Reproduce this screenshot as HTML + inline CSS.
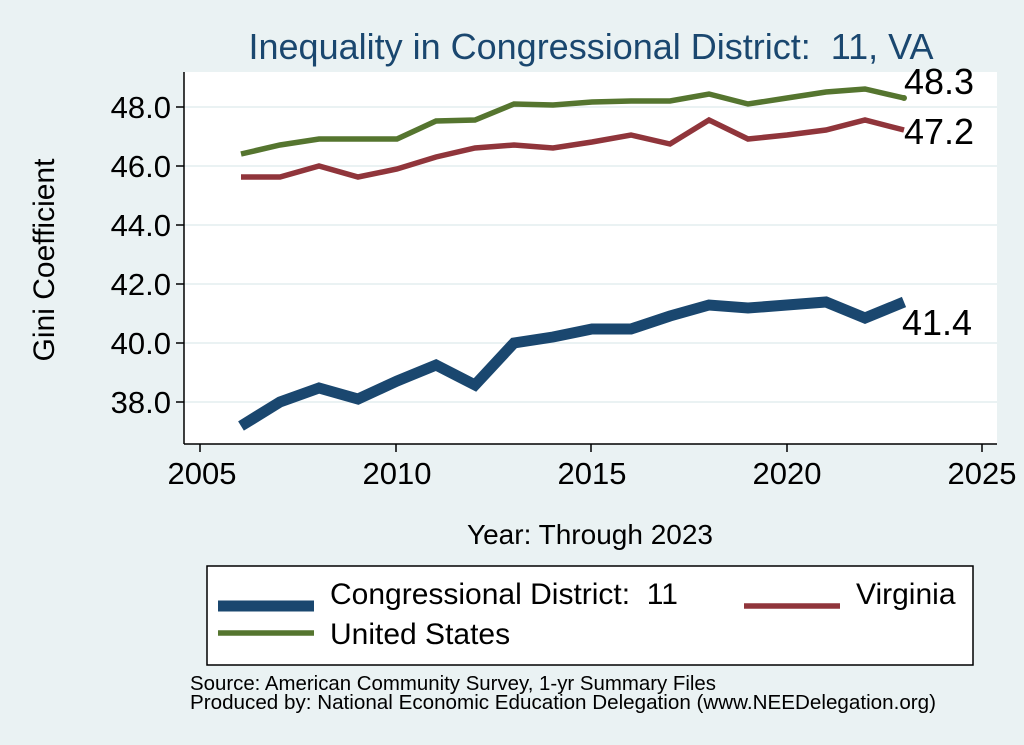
<!DOCTYPE html>
<html><head><meta charset="utf-8"><style>
body{margin:0;background:#eaf2f3}
svg{display:block;font-family:"Liberation Sans",sans-serif}
</style></head><body>
<svg width="1024" height="745" viewBox="0 0 1024 745">
<rect width="1024" height="745" fill="#eaf2f3"/>
<rect x="184" y="72" width="813" height="372" fill="#fff"/>
<g stroke="#eaf2f3" stroke-width="2">
<line x1="184" x2="997" y1="107" y2="107"/><line x1="184" x2="997" y1="166" y2="166"/>
<line x1="184" x2="997" y1="225" y2="225"/><line x1="184" x2="997" y1="284" y2="284"/>
<line x1="184" x2="997" y1="343" y2="343"/><line x1="184" x2="997" y1="402" y2="402"/>
</g>
<g stroke="#000" stroke-width="1.5" fill="none">
<line x1="184" y1="72" x2="184" y2="444"/><line x1="184" y1="444" x2="997" y2="444"/>
<line x1="176" x2="184" y1="107" y2="107"/><line x1="176" x2="184" y1="166" y2="166"/>
<line x1="176" x2="184" y1="225" y2="225"/><line x1="176" x2="184" y1="284" y2="284"/>
<line x1="176" x2="184" y1="343" y2="343"/><line x1="176" x2="184" y1="402" y2="402"/>
<line x1="200" x2="200" y1="444" y2="452"/><line x1="396" x2="396" y1="444" y2="452"/>
<line x1="591" x2="591" y1="444" y2="452"/><line x1="787" x2="787" y1="444" y2="452"/>
<line x1="982" x2="982" y1="444" y2="452"/>
</g>
<g font-size="31" text-anchor="end" fill="#000">
<text x="171" y="118">48.0</text><text x="171" y="177">46.0</text><text x="171" y="236">44.0</text>
<text x="171" y="295">42.0</text><text x="171" y="354">40.0</text><text x="171" y="413">38.0</text>
</g>
<g font-size="31" text-anchor="middle" fill="#000">
<text x="202" y="484">2005</text><text x="397" y="484">2010</text><text x="592" y="484">2015</text>
<text x="787" y="484">2020</text><text x="982" y="484">2025</text>
<text x="590" y="544" font-size="28">Year: Through 2023</text>
</g>
<text transform="translate(54,260) rotate(-90)" font-size="30" text-anchor="middle">Gini Coefficient</text>
<text x="591" y="59" font-size="36" text-anchor="middle" fill="#1a476f" xml:space="preserve">Inequality in Congressional District:  11, VA</text>
<g fill="none" stroke-linejoin="miter">
<polyline stroke="#55752f" stroke-width="5.5" points="241,154 280,145 319,139 358,139 397,139 436,121 475,120 514,104 553,105 592,102 631,101 670,101 709,94 748,104 787,98 826,92 865,89 904,98"/>
<polyline stroke="#90353b" stroke-width="5.5" points="241,177 280,177 319,166 358,177 397,169 436,157 475,148 514,145 553,148 592,142 631,135 670,144 709,120 748,139 787,135 826,130 865,120 904,130"/>
<polyline stroke="#1a476f" stroke-width="11" points="241,426 280,402 319,388 358,399 397,381 436,365 475,385 514,343 553,337 592,329 631,329 670,316 709,305 748,308 787,305 826,302 865,318 904,302"/>
</g>
<circle cx="904" cy="98" r="3" fill="#55752f"/>
<g font-size="36" fill="#000">
<text x="904" y="94">48.3</text><text x="904" y="144">47.2</text><text x="902" y="335">41.4</text>
</g>
<rect x="207" y="566" width="766" height="99" fill="#fff" stroke="#000" stroke-width="1.5"/>
<line x1="218" x2="314" y1="606" y2="606" stroke="#1a476f" stroke-width="11"/>
<line x1="744" x2="840" y1="606" y2="606" stroke="#90353b" stroke-width="5.5"/>
<line x1="218" x2="314" y1="633" y2="633" stroke="#55752f" stroke-width="5.5"/>
<g font-size="30" fill="#000">
<text x="330" y="604" xml:space="preserve">Congressional District:  11</text>
<text x="856" y="604">Virginia</text>
<text x="330" y="644">United States</text>
</g>
<g font-size="20" fill="#000">
<text x="190" y="690" textLength="526" lengthAdjust="spacingAndGlyphs">Source: American Community Survey, 1-yr Summary Files</text>
<text x="190" y="709" textLength="746" lengthAdjust="spacingAndGlyphs">Produced by: National Economic Education Delegation (www.NEEDelegation.org)</text>
</g>
</svg>
</body></html>
